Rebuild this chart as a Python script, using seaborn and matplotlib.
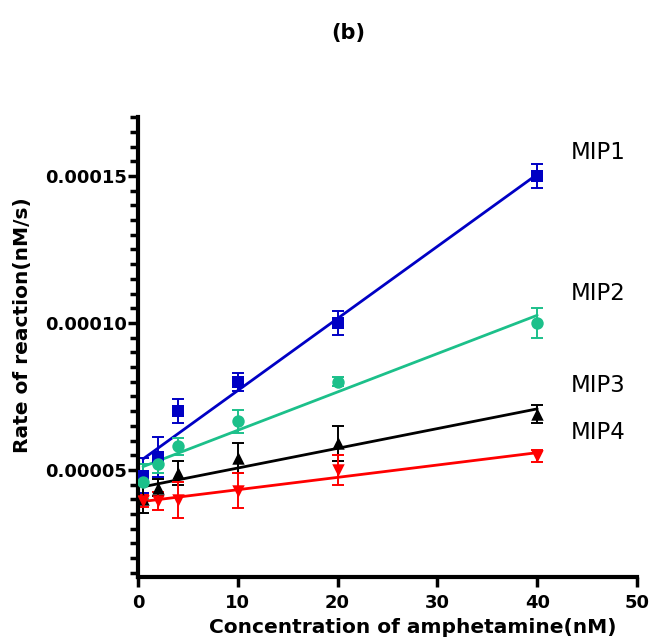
import numpy as np
import pandas as pd
import seaborn as sns
import matplotlib.pyplot as plt
from matplotlib.ticker import MultipleLocator, FormatStrFormatter

# concentration of amphetamine (nM)
conc = [0.5, 2, 4, 10, 20, 40]

# rate of reaction (nM/s), mean and error for each MIP
mip1 = [0.000048, 0.0000545, 0.000070, 0.000080, 0.000100, 0.000150]
mip1_err = [0.000006, 0.0000068, 0.000004, 0.000003, 0.000004, 0.000004]
mip2 = [0.000046, 0.000052, 0.000058, 0.0000665, 0.000080, 0.000100]
mip2_err = [0.000006, 0.000003, 0.000003, 0.000004, 0.0000015, 0.000005]
mip3 = [0.000040, 0.000044, 0.000049, 0.000054, 0.000059, 0.000069]
mip3_err = [0.0000045, 0.000003, 0.000004, 0.000005, 0.000006, 0.000003]
mip4 = [0.0000395, 0.0000395, 0.0000398, 0.000043, 0.000050, 0.0000548]
mip4_err = [0.000002, 0.000003, 0.000006, 0.000006, 0.000005, 0.000002]

names = ['MIP1', 'MIP2', 'MIP3', 'MIP4']
colors = ['#0000C4', '#1CC08A', '#000000', '#FF0000']
markers = ['s', 'o', '^', 'v']
label_y = [0.000158, 0.000110, 0.0000786, 0.0000626]


def main():
    sns.set_style('ticks')
    plt.rcParams['font.family'] = ['DejaVu Sans']
    plt.rcParams['text.color'] = 'black'
    plt.rcParams['axes.labelcolor'] = 'black'
    plt.rcParams['xtick.color'] = 'black'
    plt.rcParams['ytick.color'] = 'black'
    fig = plt.figure(figsize=(6.54, 6.40), dpi=100)
    ax = fig.add_axes([0.211, 0.098, 0.763, 0.719])

    means = [mip1, mip2, mip3, mip4]
    errs = [mip1_err, mip2_err, mip3_err, mip4_err]
    for name, y, e, c, m, ly in zip(names, means, errs, colors, markers, label_y):
        df = pd.DataFrame({'conc': conc, 'rate': y})
        ax.errorbar(conc, y, yerr=e, fmt='none', ecolor=c, elinewidth=1.4,
                    capsize=4.5, capthick=1.4, zorder=2)
        sns.regplot(data=df, x='conc', y='rate', ax=ax, ci=None, truncate=True,
                    marker=m, color=c,
                    scatter_kws={'s': 80, 'alpha': 1, 'zorder': 3, 'linewidths': 0},
                    line_kws={'lw': 2, 'zorder': 2})
        ax.text(43.4, ly, name, fontsize=16.5, ha='left', va='center', color='black')

    ax.set_xlim(0, 50)
    ax.set_ylim(0.0000135, 0.00017)
    ax.xaxis.set_major_locator(MultipleLocator(10))
    ax.yaxis.set_major_locator(MultipleLocator(0.00005))
    ax.yaxis.set_minor_locator(MultipleLocator(0.000005))
    ax.yaxis.set_major_formatter(FormatStrFormatter('%.5f'))

    ax.set_xlabel('Concentration of amphetamine(nM)', fontsize=14.5, fontweight='bold')
    ax.set_ylabel('Rate of reaction(nM/s)', fontsize=14.5, fontweight='bold')
    ax.xaxis.set_label_coords(0.55, -0.089)
    ax.yaxis.set_label_coords(-0.212, 0.548)
    for lab in ax.get_xticklabels() + ax.get_yticklabels():
        lab.set_fontweight('bold')
        lab.set_fontsize(13)

    sns.despine(ax=ax)
    for s in ['left', 'bottom']:
        ax.spines[s].set_linewidth(3)
        ax.spines[s].set_color('black')
    ax.tick_params(axis='both', which='major', length=7, width=2.5, color='black')
    ax.tick_params(axis='x', which='major', pad=5)
    ax.tick_params(axis='y', which='major', pad=1)
    ax.tick_params(axis='y', which='minor', length=6, width=2.5, color='black')

    fig.text(0.532, 0.948, '(b)', fontsize=15, fontweight='bold', ha='center', va='center')

    plt.savefig('out.png', dpi=100)


if __name__ == '__main__':
    main()
